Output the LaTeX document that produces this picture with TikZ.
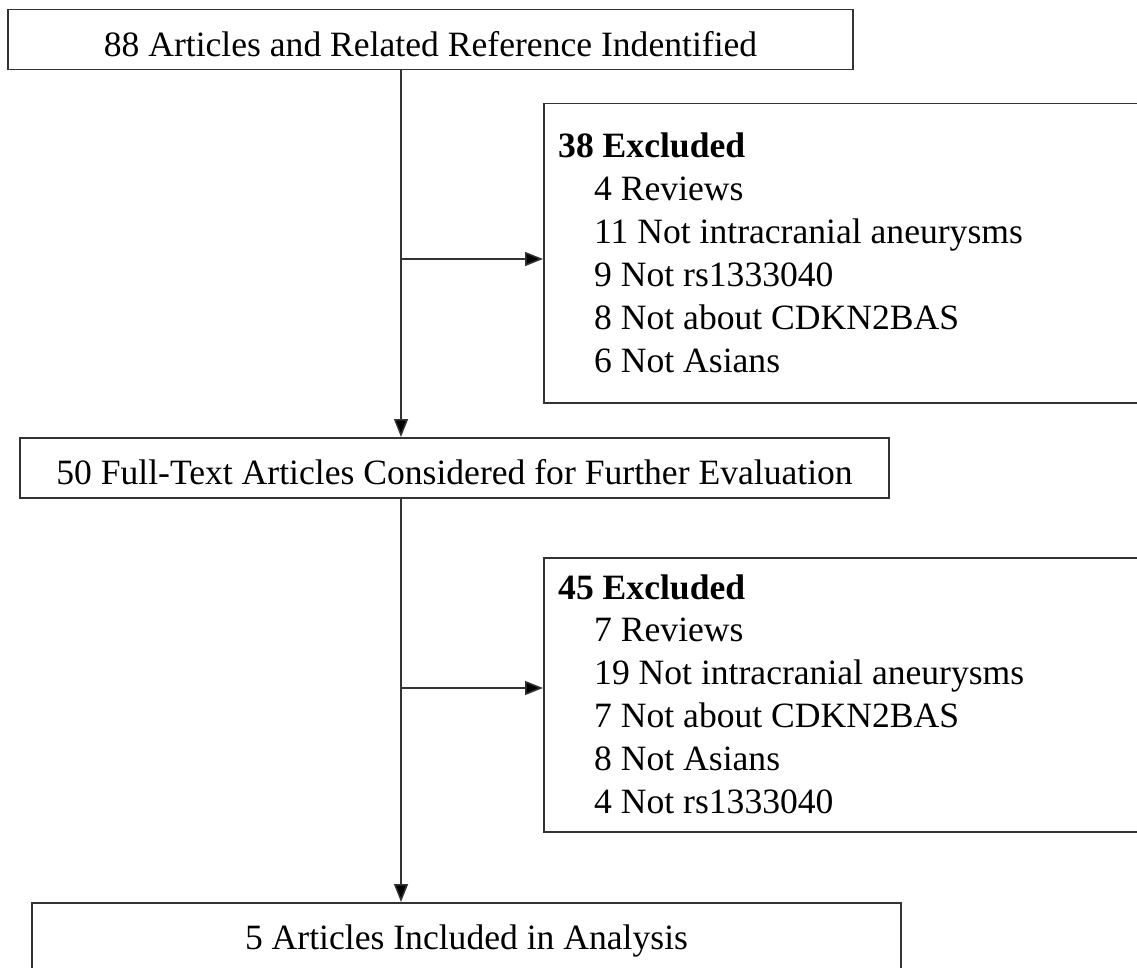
\documentclass[tikz,border=0pt]{standalone}
\usepackage{fontspec}
\setmainfont{Liberation Serif}
\usetikzlibrary{arrows.meta}
\definecolor{linecol}{HTML}{333333}
\begin{document}
\begin{tikzpicture}[x=1pt,y=-1pt,
  every node/.style={font=\fontsize{35.6}{42.8}\selectfont},
  flowbox/.style={draw=linecol, line width=1.5pt, inner sep=0pt, text height=47pt, text depth=13pt, align=center, anchor=north},
  exbox/.style={draw=linecol, line width=1.5pt, anchor=north west, inner sep=0pt},
  extext/.style={anchor=base west, inner sep=0pt},
  conn/.style={draw=linecol, line width=1.5pt},
  arr/.style={conn, -{Triangle[length=18pt,width=14pt,fill=black]}}]
\useasboundingbox (0,0) rectangle (1137,968);
\clip (0,0) rectangle (1137,968);
% main flow boxes
\node[flowbox, minimum width=845pt] (top) at (430.5,9) {88 Articles and Related Reference Indentified};
\node[flowbox, minimum width=869pt] (mid) at (454.5,437) {50 Full-Text Articles Considered for Further Evaluation};
\node[flowbox, minimum width=869pt, text depth=80pt] (bot) at (466.5,902) {5 Articles Included in Analysis};
% exclusion boxes
\node[exbox, minimum width=700pt, minimum height=299pt] (exA) at (543,103) {};
\node[exbox, minimum width=700pt, minimum height=274pt] (exB) at (543,557) {};
% exclusion texts
\node[extext] (a0) at (558,158) {\textbf{38 Excluded}};
\node[extext] (a1) at (594,200.8) {4 Reviews};
\node[extext] (a2) at (594,243.6) {11 Not intracranial aneurysms};
\node[extext] (a3) at (594,286.4) {9 Not rs1333040};
\node[extext] (a4) at (594,329.2) {8 Not about CDKN2BAS};
\node[extext] (a5) at (594,372) {6 Not Asians};
\node[extext] (b0) at (558,599) {\textbf{45 Excluded}};
\node[extext] (b1) at (594,641.8) {7 Reviews};
\node[extext] (b2) at (594,684.6) {19 Not intracranial aneurysms};
\node[extext] (b3) at (594,727.4) {7 Not about CDKN2BAS};
\node[extext] (b4) at (594,770.2) {8 Not Asians};
\node[extext] (b5) at (594,813) {4 Not rs1333040};
% connectors
\coordinate (s1) at (401,259);
\coordinate (s2) at (401,688);
\draw[arr] (top.south -| s1) -- (mid.north -| s1);
\draw[arr] (s1) -- (exA.west |- s1);
\draw[arr] (mid.south -| s2) -- (bot.north -| s2);
\draw[arr] (s2) -- (exB.west |- s2);
\end{tikzpicture}
\end{document}
